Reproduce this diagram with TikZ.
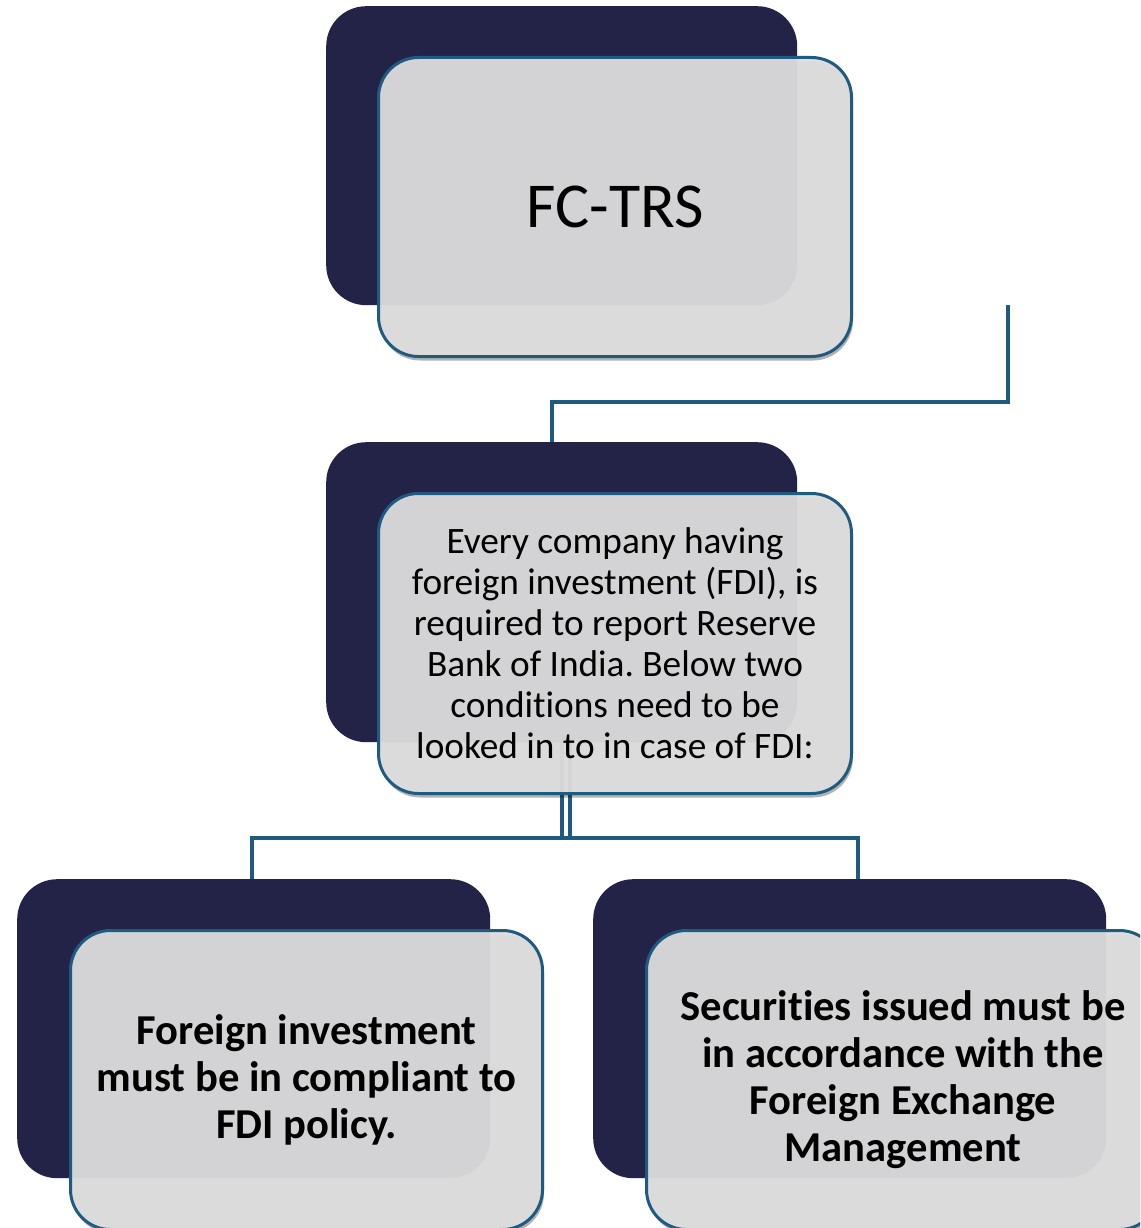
\documentclass[tikz,border=0pt]{standalone}
\usepackage{fontspec}
\setmainfont{Carlito}[Ligatures=NoCommon]
\frenchspacing
\usetikzlibrary{shadows}
\definecolor{navy}{HTML}{222347}
\definecolor{edgeblue}{HTML}{1F5A80}
\definecolor{cardgray}{HTML}{DEDEDE}
\tikzset{
  backcard/.style={fill=navy, draw=none, rounded corners=40pt, inner sep=0pt, anchor=north west},
  frontcard/.style={fill=cardgray, fill opacity=0.95, text opacity=1, draw=edgeblue, line width=3pt,
    rounded corners=40pt, inner sep=0pt, anchor=north west, align=center,
    drop shadow={shadow xshift=1.5pt, shadow yshift=-4pt, fill=black, opacity=0.3}},
  conn/.style={draw=edgeblue, line width=3.6pt},
  plaintext/.style={font=\fontsize{37.3}{41}\selectfont},
  boldtext/.style={font=\bfseries\fontsize{42.6}{47}\selectfont},
}
\begin{document}
\begin{tikzpicture}[x=1pt, y=-1pt]
  \clip (0,0) rectangle (1140,1228);
  \fill[white] (0,0) rectangle (1140,1228);

  % connector anchors
  \coordinate (topstub) at (1008,305);
  \coordinate (midjoin) at (552,402);
  \coordinate (midin) at (552,442);
  \coordinate (dropA) at (562,742);
  \coordinate (dropB) at (570,742);
  \coordinate (barL) at (252,838);
  \coordinate (barR) at (858,838);
  \coordinate (leftin) at (252,879);
  \coordinate (rightin) at (858,879);

  % connectors
  \draw[conn] (topstub) |- (midjoin) -- (midin);
  \draw[conn] (dropA) -- (dropA |- barL);
  \draw[conn] (dropB) -- (dropB |- barL);
  \draw[conn, line join=miter] (leftin) -- (barL) -- (barR) -- (rightin);

  % top card
  \node[backcard, minimum width=471pt, minimum height=299pt] (topback) at (326,6) {};
  \node[frontcard, minimum width=473pt, minimum height=299pt,
        font=\fontsize{64}{70}\selectfont] (topfront) at (377,56) {FC-TRS};

  % middle card
  \node[backcard, minimum width=471pt, minimum height=300pt] (midback) at (326,442) {};
  \node[frontcard, minimum width=473pt, minimum height=300pt, plaintext] (midfront) at (377,492)
    {Every company having\\foreign investment (FDI), is\\required to report Reserve\\Bank of India. Below two\\conditions need to be\\looked in to in case of FDI:};

  % bottom left card
  \node[backcard, minimum width=473pt, minimum height=299pt] (blback) at (17,879) {};
  \node[frontcard, minimum width=472pt, minimum height=299pt, boldtext] (blfront) at (69,929)
    {Foreign investment\\must be in compliant to\\FDI policy.};

  % bottom right card
  \node[backcard, minimum width=513pt, minimum height=299pt] (brback) at (593,879) {};
  \node[frontcard, minimum width=513pt, minimum height=299pt, boldtext] (brfront) at (645,929)
    {Securities issued must be\\in accordance with the\\Foreign Exchange\\Management};
\end{tikzpicture}
\end{document}
